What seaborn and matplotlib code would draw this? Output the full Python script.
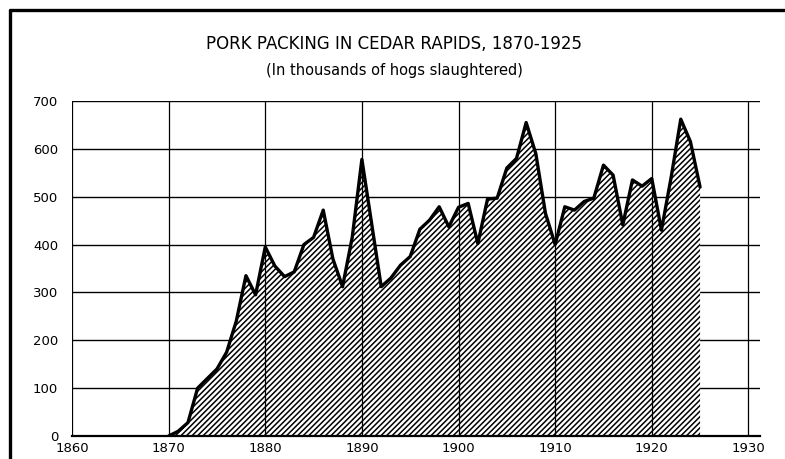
import matplotlib
matplotlib.use("Agg")
import matplotlib.pyplot as plt
from matplotlib.lines import Line2D
import numpy as np
import pandas as pd
import seaborn as sns

# Hogs slaughtered in Cedar Rapids, thousands per year
years = list(range(1870, 1926))
hogs_thousands = [
    0, 10, 28, 100, 120, 140, 175, 240, 335, 295,
    395, 355, 333, 343, 400, 415, 472, 370, 312, 415,
    578, 445, 312, 330, 357, 375, 432, 451, 479, 437,
    478, 486, 402, 495, 497, 560, 580, 655, 590, 465,
    400, 479, 472, 490, 497, 566, 545, 441, 535, 522,
    538, 430, 540, 662, 615, 520,
]
x_ticks = [1860, 1870, 1880, 1890, 1900, 1910, 1920, 1930]
y_ticks = [0, 100, 200, 300, 400, 500, 600, 700]

title = "PORK PACKING IN CEDAR RAPIDS, 1870-1925"
subtitle = "(In thousands of hogs slaughtered)"

df = pd.DataFrame({"year": years, "hogs": hogs_thousands})

sns.set_theme(style="white")
plt.rcParams["font.family"] = ["DejaVu Sans"]
plt.rcParams["hatch.linewidth"] = 1.1
plt.rcParams["hatch.color"] = "black"

fig = plt.figure(figsize=(7.85, 4.59), dpi=100)
ax = fig.add_axes([72 / 785, 1 - 436 / 459, (760 - 72) / 785, (436 - 101) / 459])

# horizontal rules behind the shaded area
for v in y_ticks[1:]:
    ax.axhline(v, color="black", lw=1.0, zorder=1)

# hatched area under the curve
ax.fill_between(df["year"], df["hogs"], 0, facecolor="white",
                edgecolor="black", hatch="//////", linewidth=0, zorder=2)

# decade rules drawn over the shading
for yr in x_ticks:
    ax.axvline(yr, color="black", lw=0.9, zorder=3)

sns.lineplot(data=df, x="year", y="hogs", ax=ax, color="black",
             linewidth=2.4, zorder=4)

ax.set_xlim(1860, 1931.2)
ax.set_ylim(0, 700)
ax.set_xticks(x_ticks)
ax.set_yticks(y_ticks)
ax.set_xticklabels([str(t) for t in x_ticks], fontsize=9.5)
ax.set_yticklabels([str(t) for t in y_ticks], fontsize=9.5)
ax.tick_params(axis="y", length=9, width=1.0, color="black", pad=1, labelcolor="black")
ax.tick_params(axis="x", length=0, pad=4, labelcolor="black")
ax.set_xlabel("")
ax.set_ylabel("")

for side in ["top", "right", "left"]:
    ax.spines[side].set_visible(False)
ax.spines["bottom"].set_color("black")
ax.spines["bottom"].set_linewidth(1.6)
ax.set_facecolor("white")

fig.text(0.502, 1 - 44 / 459, title, ha="center", va="center",
         fontsize=12, color="black")
fig.text(0.502, 1 - 70 / 459, subtitle, ha="center", va="center",
         fontsize=10.5, color="black")

# outer frame of the figure panel
fig.add_artist(Line2D([10 / 785, 10 / 785], [0, 1 - 10 / 459],
                      transform=fig.transFigure, color="black", lw=2.4))
fig.add_artist(Line2D([10 / 785, 1], [1 - 10 / 459, 1 - 10 / 459],
                      transform=fig.transFigure, color="black", lw=2.4))

fig.savefig("out.png", dpi=100, facecolor="white")
